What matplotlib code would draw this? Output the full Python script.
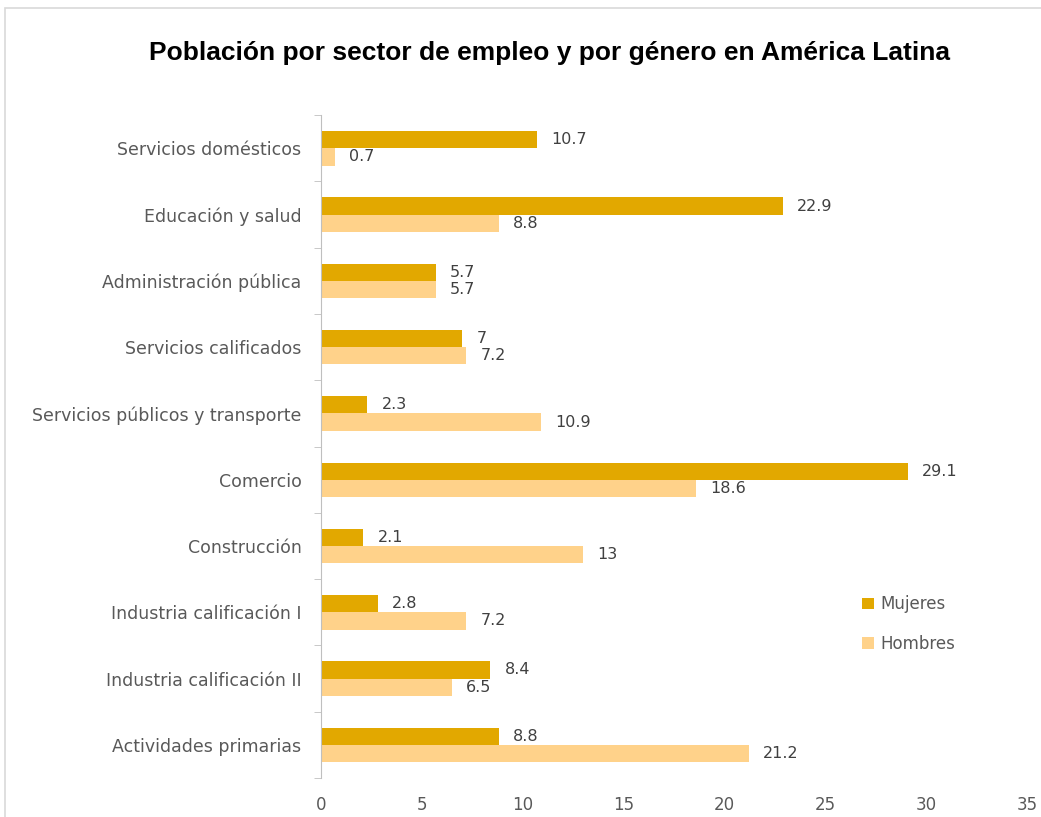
import matplotlib.pyplot as plt
import numpy as np
from matplotlib.patches import Rectangle

sectores = ["Actividades primarias", "Industria calificación II", "Industria calificación I",
            "Construcción", "Comercio", "Servicios públicos y transporte",
            "Servicios calificados", "Administración pública", "Educación y salud",
            "Servicios domésticos"]
mujeres = [8.8, 8.4, 2.8, 2.1, 29.1, 2.3, 7, 5.7, 22.9, 10.7]
hombres = [21.2, 6.5, 7.2, 13, 18.6, 10.9, 7.2, 5.7, 8.8, 0.7]
xticks = [0, 5, 10, 15, 20, 25, 30, 35]

color_m = "#E2A800"
color_h = "#FFD28A"
gris = "#595959"

plt.rcParams['font.family'] = ['DejaVu Sans']

fig = plt.figure(figsize=(10.41, 8.17), dpi=100)
ax = fig.add_axes([0.3084, 0.0477, 0.6782, 0.8113])

# marco del área del gráfico
fig.patches.append(Rectangle((5 / 1041, -0.1), 1.2, 1 - 8 / 817 + 0.1, transform=fig.transFigure,
                             fill=False, edgecolor="#D9D9D9", linewidth=1.2))

y = np.arange(len(sectores))
h = 0.26
bm = ax.barh(y + h / 2, mujeres, height=h, color=color_m, label="Mujeres")
bh = ax.barh(y - h / 2, hombres, height=h, color=color_h, label="Hombres")

for rect, v in zip(bm, mujeres):
    ax.text(v + 0.7, rect.get_y() + rect.get_height() / 2, f"{v:g}", va="center",
            ha="left", fontsize=11.5, color="#404040")
for rect, v in zip(bh, hombres):
    ax.text(v + 0.7, rect.get_y() + rect.get_height() / 2, f"{v:g}", va="center",
            ha="left", fontsize=11.5, color="#404040")

ax.set_xlim(0, 35)
ax.set_ylim(-0.5, len(sectores) - 0.5)
ax.set_xticks(xticks)
ax.set_yticks(y)
ax.set_yticklabels(sectores)
ax.set_yticks(np.arange(-0.5, len(sectores)), minor=True)
ax.tick_params(axis="y", which="major", length=0, pad=14, labelsize=12.5, labelcolor=gris)
ax.tick_params(axis="y", which="minor", length=5, color="#BFBFBF")
ax.tick_params(axis="x", length=0, pad=13, labelsize=12, labelcolor=gris)

for s in ["top", "right", "bottom"]:
    ax.spines[s].set_visible(False)
ax.spines["left"].set_color("#BFBFBF")

ax.legend(handles=[bm, bh], loc="center left", bbox_to_anchor=(0.745, 0.232), frameon=False,
          fontsize=12, labelcolor=gris, handlelength=0.7, handleheight=0.7,
          handletextpad=0.4, labelspacing=1.3)

fig.text(0.528, 0.935, "Población por sector de empleo y por género en América Latina",
         ha="center", va="center", fontsize=19, fontweight="bold", color="black",
         family="Liberation Sans")

fig.savefig("out.png", dpi=100)
